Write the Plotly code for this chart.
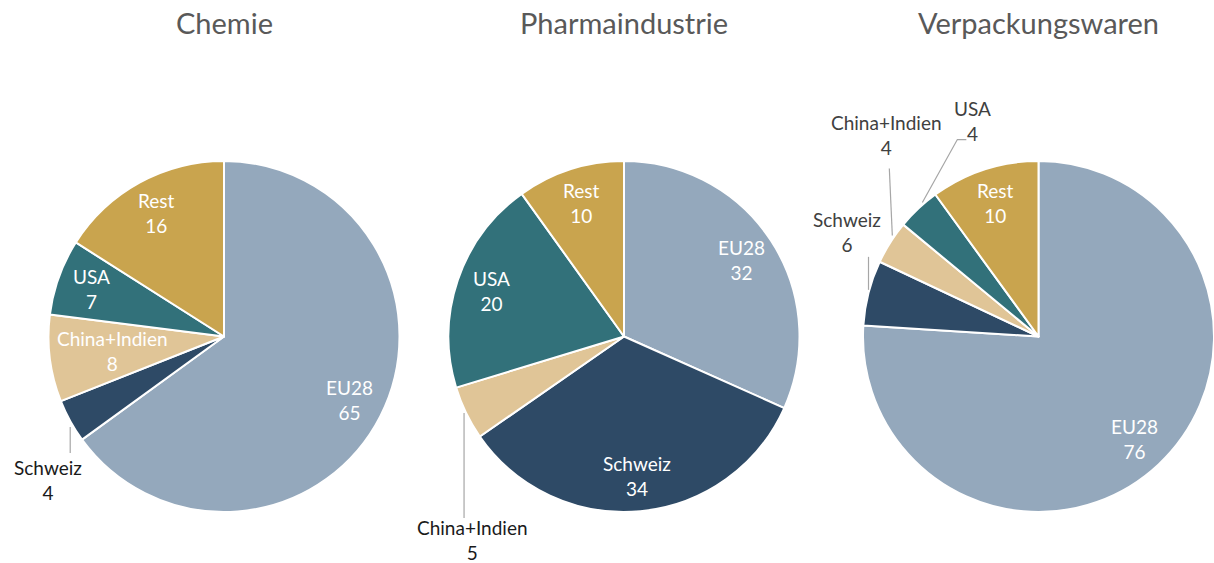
"""Three pie charts: share of exports by region for three Swiss industries."""

import math

import plotly.graph_objects as go

W, H = 1214, 563

categories = ["EU28", "Schweiz", "China+Indien", "USA", "Rest"]
chemie = [65, 4, 8, 7, 16]
pharma = [32, 34, 5, 20, 10]
verpackung = [76, 6, 4, 4, 10]
titles = ["Chemie", "Pharmaindustrie", "Verpackungswaren"]

COLORS = ["#94A8BC", "#2E4A66", "#E0C597", "#32717A", "#C9A44E"]
FONT = "Lato, 'Open Sans', sans-serif"

# pie geometry in pixels: centre x, centre y, radius
PIES = [(224, 336.5, 175.5), (624, 336.5, 175.5), (1038.5, 336.5, 175.5)]
OUTSIDE_COLOR = ["#1a1a1a", "#1a1a1a", "#404040"]

# inside label distance as a fraction of the radius
LABEL_RADIUS = 0.8
LABEL_RADIUS_OVERRIDE = {(0, "China+Indien"): 0.64}

# outside labels: label offset from slice edge point, and leader polyline (px)
OUTSIDE = {
    (0, "Schweiz"): ((-22, 59), [(0, 6), (0, 32)]),
    (1, "China+Indien"): ((6, 127), [(-2, 0), (-2, 105)]),
    (2, "Schweiz"): ((-22, -61), [(0, -3), (0, -36)]),
    (2, "China+Indien"): ((-4, -107), [(2, -7), (-1, -74)]),
    (2, "USA"): ((54, -88), [(4, -6), (39, -69), (48, -69)]),
}


def _px_to_paper(x: float, y: float) -> tuple[float, float]:
    return x / W, 1 - y / H


def _slice_point(values: list[float], idx: int, cx: float, cy: float, dist: float):
    total = sum(values)
    cum = sum(values[:idx]) + values[idx] / 2
    theta = 2 * math.pi * cum / total
    return cx + dist * math.sin(theta), cy - dist * math.cos(theta)


fig = go.Figure()
annotations = []
shapes = []

for chart, (values, title) in enumerate(zip([chemie, pharma, verpackung], titles)):
    cx, cy, r = PIES[chart]
    fig.add_trace(
        go.Pie(
            values=values,
            labels=categories,
            sort=False,
            direction="clockwise",
            rotation=0,
            marker=dict(colors=COLORS, line=dict(color="white", width=2)),
            textinfo="none",
            hoverinfo="label+value",
            domain=dict(
                x=[max(0, (cx - r) / W), min(1, (cx + r) / W)],
                y=[1 - (cy + r) / H, 1 - (cy - r) / H],
            ),
            showlegend=False,
        )
    )
    tx, ty = _px_to_paper(cx, 23)
    annotations.append(
        dict(
            text=title, x=tx, y=ty, xref="paper", yref="paper",
            xanchor="center", yanchor="middle", showarrow=False,
            font=dict(family=FONT, size=29, color="#595959"),
        )
    )

    for idx, cat in enumerate(categories):
        text = f"{cat}<br>{values[idx]}"
        key = (chart, cat)
        if key in OUTSIDE:
            (ox, oy), leader = OUTSIDE[key]
            ex, ey = _slice_point(values, idx, cx, cy, r)
            lx, ly = _px_to_paper(ex + ox, ey + oy)
            annotations.append(
                dict(
                    text=text, x=lx, y=ly, xref="paper", yref="paper",
                    xanchor="center", yanchor="middle", showarrow=False,
                    font=dict(family=FONT, size=19, color=OUTSIDE_COLOR[chart]),
                )
            )
            pts = [_px_to_paper(ex + dx, ey + dy) for dx, dy in leader]
            path = "M " + " L ".join(f"{px:.5f},{py:.5f}" for px, py in pts)
            shapes.append(
                dict(
                    type="path", path=path, xref="paper", yref="paper",
                    line=dict(color="#A6A6A6", width=1.2),
                )
            )
        else:
            frac = LABEL_RADIUS_OVERRIDE.get(key, LABEL_RADIUS)
            px, py = _slice_point(values, idx, cx, cy, r * frac)
            lx, ly = _px_to_paper(px, py)
            annotations.append(
                dict(
                    text=text, x=lx, y=ly, xref="paper", yref="paper",
                    xanchor="center", yanchor="middle", showarrow=False,
                    font=dict(family=FONT, size=19, color="white"),
                )
            )

fig.update_layout(
    width=W,
    height=H,
    margin=dict(l=0, r=0, t=0, b=0),
    paper_bgcolor="white",
    plot_bgcolor="white",
    annotations=annotations,
    shapes=shapes,
    showlegend=False,
)

# drop the default page margin so the figure sits flush in the window
fig.write_html(
    "out.html",
    config={"displayModeBar": False},
    post_script="document.body.style.margin = '0';",
)
